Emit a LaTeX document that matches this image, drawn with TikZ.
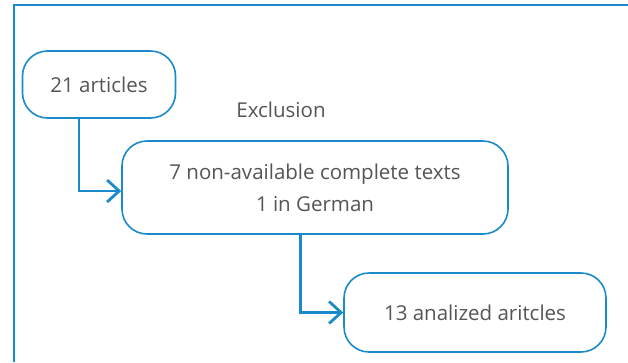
\documentclass[tikz,border=0pt]{standalone}
\usepackage{fontspec}
\setmainfont{Open Sans}
\usepackage{tikz}
\usetikzlibrary{arrows.meta, positioning, calc}
\definecolor{flowblue}{RGB}{27,138,202}
\definecolor{flowtext}{RGB}{85,85,85}
\tikzset{
  fc box/.style={
    rectangle, rounded corners=25pt, draw=flowblue, line width=1.6pt,
    fill=white, align=center, text=flowtext,
    font=\fontsize{20.5}{32}\selectfont, inner sep=0pt
  },
  fc arrow/.style={
    -{Straight Barb[length=12pt, width=22pt, line width=2.8pt]},
    line width=2.8pt, draw=flowblue
  },
  fc label/.style={
    text=flowtext, font=\fontsize{20.5}{24}\selectfont, inner sep=0pt
  }
}
\begin{document}
\begin{tikzpicture}[x=1pt, y=-1pt]
  \useasboundingbox (0,0) rectangle (628,362);
  % frame
  \draw[flowblue, line width=1.4pt] (14,362) -- (14,5) -- (628,5);

  \node (n1) [fc box, minimum width=153pt, minimum height=67pt]
    at (99,84.5) {21 articles};
  \node (excl) [fc label] at (281,110) {Exclusion};
  \node (n2) [fc box, minimum width=386pt, minimum height=93pt]
    at (315,187.5) {7 non-available complete texts\\1 in German};
  \node (n3) [fc box, minimum width=262pt, minimum height=79pt]
    at (475,312.5) {13 analized aritcles};

  \draw [fc arrow] ([xshift=-20pt]n1.south) |- ([yshift=-3.5pt]n2.west);
  \draw [fc arrow] ([xshift=-14.5pt]n2.south) |- (n3.west);
\end{tikzpicture}
\end{document}
